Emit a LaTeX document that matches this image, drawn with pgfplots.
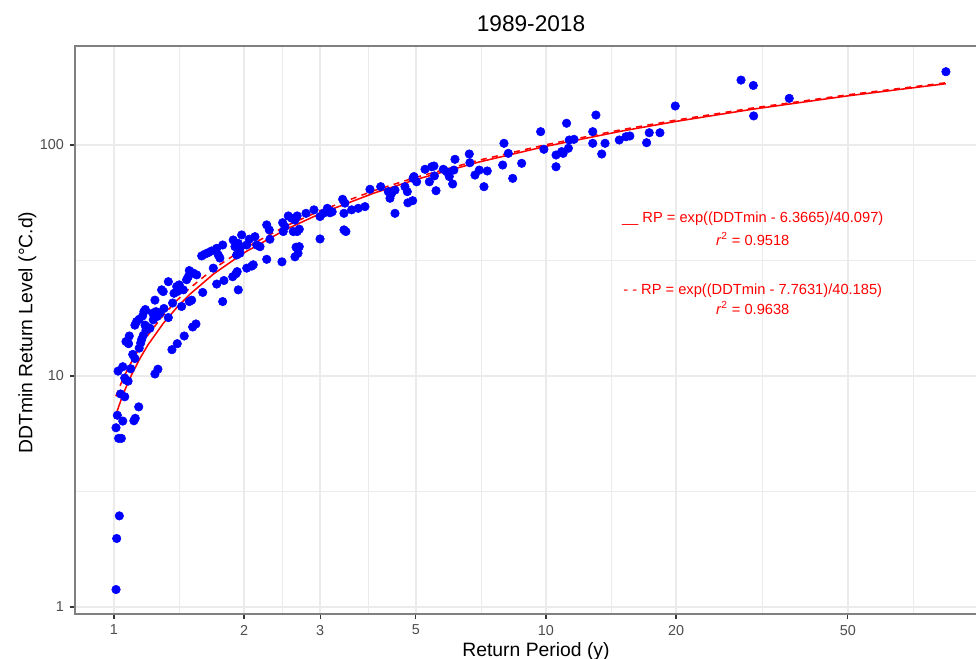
\documentclass[border=0pt]{standalone}
\usepackage{pgfplots}
\pgfplotsset{compat=1.18}
\usepackage{fontspec}
\setmainfont{Liberation Sans}
\definecolor{gridc}{HTML}{EBEBEB}
\definecolor{tickc}{HTML}{4D4D4D}
\definecolor{framec}{HTML}{808080}
\definecolor{ptblue}{HTML}{0000FF}
\definecolor{fitred}{HTML}{FF0000}

\pgfplotstableread{
RP DDT
1.011 1.19
1.0145 1.98
1.029 2.48
1.011 5.97
1.018 6.76
1.025 5.37
1.040 5.37
1.048 6.38
1.112 6.40
1.120 6.56
1.141 7.35
1.036 8.36
1.059 8.13
1.022 10.5
1.048 10.97
1.059 9.8
1.078 9.5
1.066 9.6
1.093 10.75
1.105 12.4
1.118 11.9
1.066 14.1
1.081 13.8
1.085 14.9
1.244 10.2
1.264 10.7
1.362 13.0
1.401 13.8
1.454 14.9
1.521 16.3
1.548 16.8
1.144 13.2
1.153 13.9
1.159 14.4
1.169 15.0
1.186 15.8
1.180 16.6
1.118 16.6
1.128 17.2
1.144 17.6
1.165 18.2
1.173 19.0
1.182 19.4
1.190 16.3
1.211 16.1
1.233 17.5
1.229 18.7
1.251 19.0
1.259 18.1
1.278 18.7
1.244 21.3
1.289 23.6
1.300 23.2
1.305 19.6
1.336 17.9
1.336 25.6
1.367 20.7
1.377 22.8
1.401 23.2
1.416 24.8
1.397 24.4
1.434 20.0
1.494 21.0
1.513 21.3
1.447 23.6
1.473 26.1
1.486 26.9
1.505 28.0
1.526 27.9
1.554 27.4
1.494 28.6
1.605 23.0
1.596 33.1
1.624 33.7
1.653 34.2
1.684 34.8
1.729 35.7
1.785 36.9
1.744 33.4
1.759 32.4
1.698 29.3
1.729 25.0
1.797 25.9
1.785 21.0
1.883 26.9
1.916 27.7
1.940 23.6
1.929 28.3
2.029 29.3
2.084 29.9
2.101 30.3
1.906 36.3
1.923 33.4
1.957 34.0
2.029 36.9
1.888 38.8
1.940 37.5
1.975 40.8
1.957 35.7
2.057 39.1
2.120 40.1
2.140 36.9
2.178 36.3
2.257 45.1
2.288 42.9
2.257 32.0
2.296 39.1
2.448 31.2
2.457 46.1
2.487 44.3
2.532 49.3
2.578 48.2
2.624 47.3
2.655 49.3
2.624 32.8
2.667 34.0
2.685 36.3
2.639 36.1
2.655 42.2
2.600 42.2
2.465 42.2
2.685 43.2
2.783 50.6
2.904 52.4
2.999 39.2
3.052 50.6
3.118 53.2
3.162 50.9
3.200 51.4
2.999 49.0
3.383 58.2
3.425 56.0
3.407 50.6
3.407 42.9
3.443 42.2
3.549 52.4
3.677 53.2
3.811 54.1
3.914 64.3
4.144 66.0
4.315 62.8
4.354 58.8
4.393 61.8
4.472 63.8
4.472 50.6
4.716 66.0
4.775 62.8
4.790 56.2
4.914 57.4
4.948 73.0
5.019 69.3
4.924 71.7
5.248 78.5
5.438 80.5
5.505 81.1
5.370 69.3
5.565 63.4
5.518 73.5
5.785 78.5
5.890 76.6
5.973 73.0
6.081 67.8
6.157 86.7
6.120 77.9
6.645 91.4
6.665 83.8
6.849 74.1
7.008 77.9
7.186 66.0
7.313 77.2
7.940 81.9
7.995 101.7
8.180 92.0
8.375 71.7
8.785 83.3
9.720 114.2
9.890 95.8
10.55 90.5
10.55 80.5
10.87 93.6
10.96 92.0
11.16 124.2
11.27 96.8
11.32 105.1
11.61 105.8
12.83 114.2
12.83 101.7
13.05 134.8
13.46 91.4
13.70 101.7
14.78 105.1
15.32 108.6
15.64 109.4
17.10 102.3
17.34 113.0
18.36 113.0
19.92 147.5
28.28 191.0
30.20 181.0
30.25 133.6
36.57 159.2
84.30 207.6
}\pointsdata

\pgfplotstableread{
RP DDT
1.01 6.766
1.02 7.160
1.04 7.939
1.06 8.703
1.08 9.452
1.10 10.188
1.15 11.970
1.20 13.677
1.30 16.886
1.40 19.858
1.50 22.625
1.70 27.643
2.00 34.160
2.50 43.107
3.00 50.417
4.00 61.952
5.00 70.900
7.00 84.391
10.0 98.694
15.0 114.951
20.0 126.487
30.0 142.744
50.0 163.228
84.3 184.174
}\fitsolid

\pgfplotstableread{
RP DDT
1.01 8.163
1.02 8.559
1.04 9.339
1.06 10.105
1.08 10.856
1.10 11.593
1.15 13.379
1.20 15.090
1.30 18.306
1.40 21.284
1.50 24.057
1.70 29.086
2.00 35.617
2.50 44.584
3.00 51.910
4.00 63.471
5.00 72.438
7.00 85.959
10.0 100.292
15.0 116.585
20.0 128.145
30.0 144.440
50.0 164.967
84.3 185.959
}\fitdashed

\begin{document}
\begin{tikzpicture}
\begin{axis}[
  at={(0,0)}, anchor=south west,
  scale only axis, width=675.75pt, height=426pt,
  xmode=log, ymode=log,
  xmin=0.8124, xmax=98.95, ymin=0.9326, ymax=268.3,
  clip=false,
  axis line style={draw=none},
  xtick={1,2,3,5,10,20,50},
  xticklabels={1,2,3,5,10,20,50},
  ytick={1,10,100},
  yticklabels={1,10,100},
  minor xtick={1.4142,2.4495,3.873,7.0711,14.142,31.623,70.711},
  minor ytick={3.1623,31.623},
  grid=both,
  major grid style={gridc, line width=1pt},
  minor grid style={gridc, line width=0.6pt},
  tick pos=left,
  tick align=outside,
  major tick length=3.8pt,
  minor tick length=0pt,
  major tick style={tickc!70!black, line width=0.8pt},
  tick label style={font=\fontsize{10.8}{12}\selectfont, text=tickc},
  xticklabel style={yshift=-1pt},
  yticklabel style={xshift=-1pt},
]
\addplot[only marks, mark=*, mark size=3.2pt, ptblue, mark options={draw=ptblue, fill=ptblue}] table[x=RP, y=DDT] {\pointsdata};
\addplot[fitred, line width=1.15pt, no marks] table[x=RP, y=DDT] {\fitsolid};
\addplot[fitred, line width=1.15pt, no marks, dash pattern=on 4.5pt off 4pt] table[x=RP, y=DDT] {\fitdashed};

\draw[framec, line width=1pt] (rel axis cs:1,1) -- (rel axis cs:0,1) -- (rel axis cs:0,0) -- (rel axis cs:1,0);

\node[anchor=base, text=fitred, font=\fontsize{11}{13}\selectfont] at (axis cs:30.1,46.1) {\_\_ RP = exp((DDTmin - 6.3665)/40.097)};
\node[anchor=base, text=fitred, font=\fontsize{11}{13}\selectfont] at (axis cs:30.1,36.9) {\textit{r}\textsuperscript{2} = 0.9518};
\node[anchor=base, text=fitred, font=\fontsize{11}{13}\selectfont] at (axis cs:30.1,22.6) {- - RP = exp((DDTmin - 7.7631)/40.185)};
\node[anchor=base, text=fitred, font=\fontsize{11}{13}\selectfont] at (axis cs:30.1,18.5) {\textit{r}\textsuperscript{2} = 0.9638};
\end{axis}

\node[anchor=base, font=\fontsize{17}{20}\selectfont] at (342pt,436.7pt) {1989-2018};
\node[anchor=base, font=\fontsize{14.5}{17}\selectfont] at (345.75pt,-32.25pt) {Return Period (y)};
\node[anchor=base, rotate=90, font=\fontsize{14.5}{17}\selectfont] at (-32pt,211pt) {DDTmin Return Level (°C.d)};

\pgfresetboundingbox
\path (-56.25pt,-33.75pt) rectangle (675.75pt,460.5pt);
\end{tikzpicture}
\end{document}
